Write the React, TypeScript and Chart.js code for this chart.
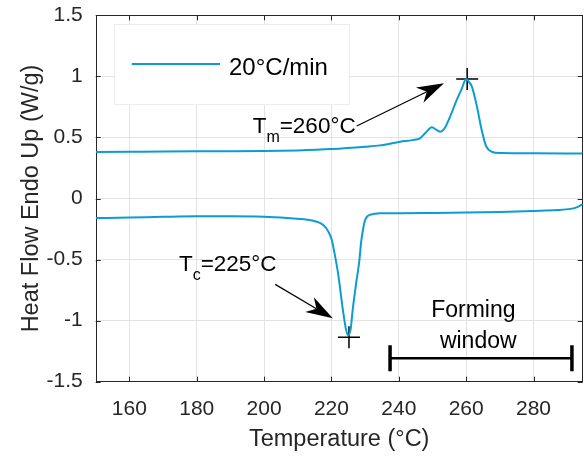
import React, { useEffect, useRef } from "react";
import { Chart, registerables } from "chart.js";
Chart.register(...registerables);

// ---- data ----
const heatingT = [150, 160, 170, 180, 190, 200, 210, 220, 230, 234.4, 240.4, 244, 246.3, 248, 249.8, 251.2, 252.4, 253.6, 255, 257.2, 258.7, 260, 260.8, 261.7, 263.2, 264.6, 265.9, 267.6, 270.1, 280, 294.6];
const heatingQ = [0.381, 0.383, 0.385, 0.386, 0.386, 0.388, 0.394, 0.405, 0.424, 0.435, 0.465, 0.478, 0.493, 0.54, 0.583, 0.562, 0.547, 0.575, 0.655, 0.807, 0.9, 0.978, 0.955, 0.916, 0.752, 0.561, 0.43, 0.383, 0.372, 0.37, 0.368];
const coolingT = [150, 160, 170, 180, 190, 200, 207, 211, 214.6, 217.6, 219.1, 220.1, 221.1, 222, 223.4, 224.3, 225, 225.7, 226.3, 227.3, 228.3, 228.8, 229.4, 230, 230.7, 231.5, 234.4, 240, 250, 260, 270, 280, 287, 291, 293, 294.6];
const coolingQ = [-0.16, -0.156, -0.15, -0.146, -0.146, -0.15, -0.16, -0.168, -0.182, -0.217, -0.272, -0.34, -0.476, -0.62, -0.913, -1.07, -1.12, -1.07, -0.913, -0.7, -0.504, -0.36, -0.25, -0.176, -0.145, -0.133, -0.121, -0.12, -0.118, -0.115, -0.11, -0.102, -0.095, -0.085, -0.07, -0.045];
const peakT = [260.3, 225.2];
const peakQ = [0.978, -1.137];
const xTicks = [160, 180, 200, 220, 240, 260, 280];
const yTicks = [-1.5, -1, -0.5, 0, 0.5, 1, 1.5];
const seriesLabel = "20°C/min";
const xTitle = "Temperature (°C)";
const yTitle = "Heat Flow Endo Up (W/g)";
const formingWindow = [237.4, 291.4];
const formingText = ["Forming", "window"];

// ---- styles / annotation placement ----
const FONT = "'Liberation Sans', Arial, Helvetica, sans-serif";
const LINE = "#0b9cd2";
const AXIS = "#262626";
const W = 584, H = 456;
const AREA = { left: 95.7, top: 15.3, right: 582.7, bottom: 381.7 };

const notes = {
  tm: { main: "T", sub: "m", rest: "=260°C", x: 196.6, y: 0.539, from: [227.5, 0.594], to: [253.4, 0.943] },
  tc: { main: "T", sub: "c", rest: "=225°C", x: 174.7, y: -0.591, from: [203.3, -0.703], to: [220.4, -0.981] },
  forming: { lines: [[249.6, -0.968], [252.2, -1.227]], barY: -1.309 },
};

function drawArrow(ctx: CanvasRenderingContext2D, x0: number, y0: number, x1: number, y1: number) {
  const dx = x1 - x0, dy = y1 - y0;
  const len = Math.hypot(dx, dy);
  const ux = dx / len, uy = dy / len;
  const nx = -uy, ny = ux;
  const L = 27, HW = 8.5, N = 19;
  ctx.save();
  ctx.strokeStyle = "#000";
  ctx.fillStyle = "#000";
  ctx.lineWidth = 1.2;
  ctx.beginPath();
  ctx.moveTo(x0, y0);
  ctx.lineTo(x1 - ux * N, y1 - uy * N);
  ctx.stroke();
  ctx.beginPath();
  ctx.moveTo(x1, y1);
  ctx.lineTo(x1 - ux * L + nx * HW, y1 - uy * L + ny * HW);
  ctx.lineTo(x1 - ux * N, y1 - uy * N);
  ctx.lineTo(x1 - ux * L - nx * HW, y1 - uy * L - ny * HW);
  ctx.closePath();
  ctx.fill();
  ctx.restore();
}

function drawSubLabel(ctx: CanvasRenderingContext2D, n: any, x: number, y: number) {
  ctx.save();
  ctx.fillStyle = "#000";
  ctx.textBaseline = "alphabetic";
  ctx.textAlign = "left";
  ctx.font = `22.5px ${FONT}`;
  ctx.fillText(n.main, x, y);
  let cx = x + ctx.measureText(n.main).width;
  ctx.font = `16px ${FONT}`;
  ctx.fillText(n.sub, cx, y + 9);
  cx += ctx.measureText(n.sub).width;
  ctx.font = `22.5px ${FONT}`;
  ctx.fillText(n.rest, cx, y);
  ctx.restore();
}

const areaPlugin = {
  id: "area",
  afterLayout(chart: any) {
    const a = chart.chartArea;
    a.left = AREA.left; a.top = AREA.top; a.right = AREA.right; a.bottom = AREA.bottom;
    a.width = AREA.right - AREA.left; a.height = AREA.bottom - AREA.top;
    const xs = chart.scales.x, ys = chart.scales.y;
    xs.left = AREA.left; xs.right = AREA.right; xs.width = a.width;
    xs.top = AREA.bottom; xs.bottom = H; xs.height = H - AREA.bottom;
    ys.left = 0; ys.right = AREA.left; ys.width = AREA.left;
    ys.top = AREA.top; ys.bottom = AREA.bottom; ys.height = a.height;
    xs.configure();
    ys.configure();
  },
};

const framePlugin = {
  id: "frame",
  beforeDatasetsDraw(chart: any) {
    const { ctx, chartArea: a, scales } = chart;
    const xs = scales.x, ys = scales.y;
    ctx.save();
    ctx.strokeStyle = AXIS;
    ctx.lineWidth = 1;
    const tl = 5;
    ctx.beginPath();
    for (const v of xTicks) {
      const p = Math.round(xs.getPixelForValue(v)) + 0.5;
      ctx.moveTo(p, a.bottom); ctx.lineTo(p, a.bottom - tl);
      ctx.moveTo(p, a.top); ctx.lineTo(p, a.top + tl);
    }
    for (const v of yTicks) {
      const p = Math.round(ys.getPixelForValue(v)) + 0.5;
      ctx.moveTo(a.left, p); ctx.lineTo(a.left + tl, p);
      ctx.moveTo(a.right, p); ctx.lineTo(a.right - tl, p);
    }
    ctx.stroke();
    ctx.strokeRect(Math.round(a.left) + 0.5, Math.round(a.top) + 0.5, Math.round(a.right - a.left) - 1, Math.round(a.bottom - a.top));
    ctx.restore();
  },
};

const notesPlugin = {
  id: "notes",
  afterDatasetsDraw(chart: any) {
    const { ctx, chartArea: a, scales } = chart;
    const xs = scales.x, ys = scales.y;
    const px = (v: number) => xs.getPixelForValue(v);
    const py = (v: number) => ys.getPixelForValue(v);

    for (const n of [notes.tm, notes.tc]) {
      drawArrow(ctx, px(n.from[0]), py(n.from[1]), px(n.to[0]), py(n.to[1]));
      drawSubLabel(ctx, n, px(n.x), py(n.y));
    }

    ctx.save();
    ctx.fillStyle = "#000";
    ctx.font = `23px ${FONT}`;
    ctx.textAlign = "left";
    ctx.textBaseline = "alphabetic";
    formingText.forEach((t, i) => {
      const [tx, ty] = notes.forming.lines[i];
      ctx.fillText(t, px(tx), py(ty));
    });
    const bx0 = px(formingWindow[0]), bx1 = px(formingWindow[1]), by = py(notes.forming.barY);
    ctx.strokeStyle = "#000";
    ctx.lineWidth = 2.5;
    ctx.beginPath();
    ctx.moveTo(bx0, by); ctx.lineTo(bx1, by);
    ctx.stroke();
    ctx.lineWidth = 3.5;
    ctx.beginPath();
    ctx.moveTo(bx0, by - 13); ctx.lineTo(bx0, by + 13);
    ctx.moveTo(bx1, by - 13); ctx.lineTo(bx1, by + 13);
    ctx.stroke();
    ctx.restore();

    ctx.save();
    const lx = a.left + 18.3, ly = a.top + 8.7, lw = 235.3, lh = 80;
    ctx.fillStyle = "#fff";
    ctx.fillRect(lx, ly, lw, lh);
    ctx.strokeStyle = "#ebeeee";
    ctx.lineWidth = 1;
    ctx.strokeRect(Math.round(lx) + 0.5, Math.round(ly) + 0.5, Math.round(lw), Math.round(lh));
    ctx.strokeStyle = LINE;
    ctx.lineWidth = 2;
    ctx.beginPath();
    ctx.moveTo(lx + 17.7, ly + 40); ctx.lineTo(lx + 106, ly + 40);
    ctx.stroke();
    ctx.fillStyle = "#000";
    ctx.font = `24px ${FONT}`;
    ctx.textBaseline = "alphabetic";
    ctx.fillText(seriesLabel, lx + 115, ly + 51);
    ctx.restore();
  },
};

const zeroPad = (s: any) => {
  s.paddingLeft = 0; s.paddingRight = 0; s.paddingTop = 0; s.paddingBottom = 0;
};

export default function App() {
  const ref = useRef<HTMLCanvasElement | null>(null);
  useEffect(() => {
    document.body.style.margin = "0";
    const canvas = ref.current!;
    const chart = new Chart(canvas, {
      type: "line",
      data: {
        datasets: [
          {
            label: seriesLabel,
            data: heatingT.map((t, i) => ({ x: t, y: heatingQ[i] })),
            borderColor: LINE,
            borderWidth: 2,
            pointRadius: 0,
            cubicInterpolationMode: "monotone",
            fill: false,
          },
          {
            label: seriesLabel + " cooling",
            data: coolingT.map((t, i) => ({ x: t, y: coolingQ[i] })),
            borderColor: LINE,
            borderWidth: 2,
            pointRadius: 0,
            cubicInterpolationMode: "monotone",
            fill: false,
          },
          {
            label: "peaks",
            data: peakT.map((t, i) => ({ x: t, y: peakQ[i] })),
            showLine: false,
            pointStyle: "cross",
            pointRadius: 11,
            borderColor: "#000",
            backgroundColor: "#000",
            borderWidth: 1.5,
            clip: false,
          } as any,
        ],
      },
      options: {
        animation: false,
        responsive: false,
        events: [],
        layout: { padding: { left: 0, top: 15.3, right: 1.3, bottom: 0 } },
        plugins: { legend: { display: false }, tooltip: { enabled: false } },
        scales: {
          x: {
            type: "linear",
            min: 150,
            max: 294.6,
            afterBuildTicks: (s: any) => { s.ticks = xTicks.map((v) => ({ value: v })); },
            afterFit: (s: any) => { s.height = 74.3; zeroPad(s); },
            grid: { color: "#e3e3e3", drawTicks: false, lineWidth: 1 },
            border: { display: false },
            ticks: { color: AXIS, font: { size: 21, family: FONT }, padding: 15, maxRotation: 0, autoSkip: false, callback: (v: any) => String(v) },
            title: { display: true, text: xTitle, color: AXIS, font: { size: 23.5, family: FONT }, padding: { top: 0, bottom: 2 } },
          },
          y: {
            type: "linear",
            min: -1.5,
            max: 1.5,
            afterBuildTicks: (s: any) => { s.ticks = yTicks.map((v) => ({ value: v })); },
            afterFit: (s: any) => { s.width = 95.7; zeroPad(s); },
            grid: { color: "#e3e3e3", drawTicks: false, lineWidth: 1 },
            border: { display: false },
            ticks: { color: AXIS, font: { size: 21, family: FONT }, padding: 13, autoSkip: false, callback: (v: any) => String(v) },
            title: { display: true, text: yTitle, color: AXIS, font: { size: 23.5, family: FONT }, padding: { top: 17.7, bottom: 0 } },
          },
        },
      },
      plugins: [areaPlugin, framePlugin, notesPlugin],
    } as any);
    return () => chart.destroy();
  }, []);
  return (
    <div style={{ width: W, height: H, background: "#fff" }}>
      <canvas ref={ref} width={W} height={H} style={{ display: "block" }} />
    </div>
  );
}
